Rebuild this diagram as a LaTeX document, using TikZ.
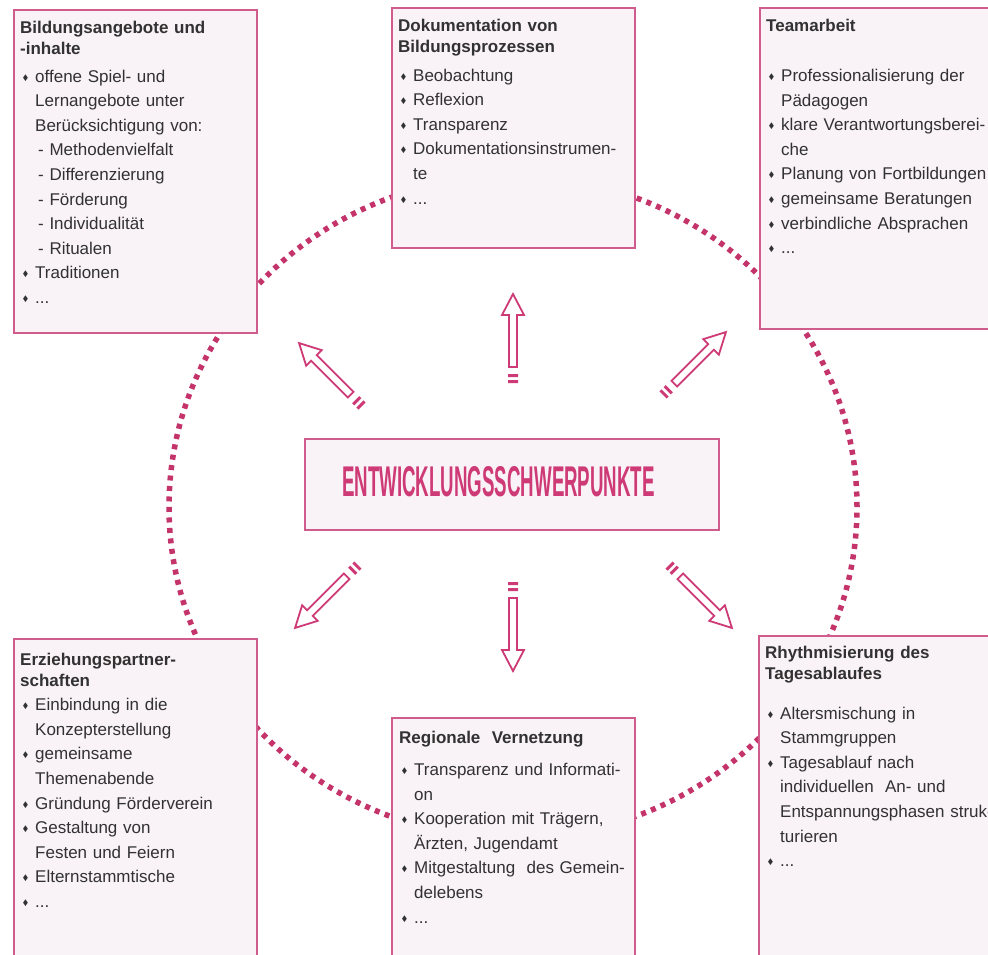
\documentclass[tikz,border=0pt]{standalone}
\usepackage{fontspec}
\usepackage{graphicx}
\usetikzlibrary{positioning}
\setmainfont{Liberation Sans}
\newfontfamily\dejavu{DejaVu Sans}
\definecolor{boxline}{RGB}{208,92,142}
\definecolor{boxfill}{RGB}{249,242,246}
\definecolor{dotcol}{RGB}{196,52,106}
\definecolor{headcol}{RGB}{206,58,118}
\definecolor{textgray}{RGB}{50,50,50}
\newcommand{\bul}{\hspace*{3pt}\makebox[12pt][l]{\raisebox{2pt}{\dejavu\fontsize{9}{9}\selectfont\scalebox{0.7}[1]{◆}}}}
\newcommand{\cont}{\hspace*{15pt}}
\newcommand{\subit}{\hspace*{18pt}}
\newcommand{\boxhead}[2]{{\fontsize{17}{20.5}\selectfont\bfseries #1\par}\vspace{#2pt}}
\tikzset{
  infobox/.style={draw=boxline,fill=boxfill,line width=1.6pt,anchor=north west,minimum width=243,inner sep=0pt},
  boxtext/.style={text=textgray,text width=232pt,align=left,inner sep=0pt,font=\fontsize{17}{24.6}\selectfont},
  mainbox/.style={draw=boxline,fill=boxfill,line width=1.5pt,minimum width=414,minimum height=91,text=headcol,text height=24.8pt,text depth=0pt},
  dotring/.style={draw=dotcol,line width=5.5pt,dash pattern=on 5pt off 5.5pt},
  arrowline/.style={draw=headcol,line width=1.8pt,fill=white,line join=miter},
  hollowarrow/.pic={
    \fill[headcol] (0,-5) rectangle (3,5) (6,-5) rectangle (9,5);
    \draw[arrowline] (16,-4) -- (68,-4) -- (68,-11) -- (89,0) -- (68,11) -- (68,4) -- (16,4) -- cycle;
  }
}
\begin{document}
\begin{tikzpicture}[x=1pt,y=-1pt]
\clip (0,0) rectangle (988,955);
\fill[white] (0,0) rectangle (988,955);
\draw[dotring] (513,507) ellipse [x radius=344pt, y radius=331pt];
\node (bildung) at (13,9) [infobox][minimum height=323]{};
\node (doku) at (391,7) [infobox][minimum height=240]{};
\node (team) at (759,7) [infobox][minimum height=321]{};
\node (eltern) at (13,638) [infobox][minimum height=340]{};
\node (region) at (391,717) [infobox][minimum height=260]{};
\node (rhythmus) at (758,635) [infobox][minimum height=340]{};
\node (bildungtext) [boxtext, below right=12pt and 7pt of bildung.north west]{\boxhead{Bildungsangebote und\\-inhalte}{3.4}
\bul offene Spiel- und\\
\cont Lernangebote unter\\
\cont Berücksichtigung von:\\
\subit - Methodenvielfalt\\
\subit - Differenzierung\\
\subit - Förderung\\
\subit - Individualität\\
\subit - Ritualen\\
\bul Traditionen\\
\bul ...};
\node (dokutext) [boxtext, below right=12pt and 7pt of doku.north west]{\boxhead{Dokumentation von\\Bildungsprozessen}{4.4}
\bul Beobachtung\\
\bul Reflexion\\
\bul Transparenz\\
\bul Dokumentationsinstrumen-\\
\cont te\\
\bul ...};
\node (teamtext) [boxtext, below right=12pt and 7pt of team.north west]{\boxhead{Teamarbeit}{25.4}
\bul Professionalisierung der\\
\cont Pädagogen\\
\bul klare Verantwortungsberei-\\
\cont che\\
\bul Planung von Fortbildungen\\
\bul gemeinsame Beratungen\\
\bul verbindliche Absprachen\\
\bul ...};
\node (elterntext) [boxtext, below right=15pt and 7pt of eltern.north west]{\boxhead{Erziehungspartner-\\schaften}{0}
\bul Einbindung in die\\
\cont Konzepterstellung\\
\bul gemeinsame\\
\cont Themenabende\\
\bul Gründung Förderverein\\
\bul Gestaltung von\\
\cont Festen und Feiern\\
\bul Elternstammtische\\
\bul ...};
\node (regiontext) [boxtext, below right=14pt and 8pt of region.north west]{\boxhead{Regionale\ \ Vernetzung}{7.4}
\bul Transparenz und Informati-\\
\cont on\\
\bul Kooperation mit Trägern,\\
\cont Ärzten, Jugendamt\\
\bul Mitgestaltung\ \ des Gemein-\\
\cont delebens\\
\bul ...};
\node (rhythmustext) [boxtext, below right=11pt and 7pt of rhythmus.north west]{\boxhead{Rhythmisierung des\\Tagesablaufes}{15.4}
\bul Altersmischung in\\
\cont Stammgruppen\\
\bul Tagesablauf nach\\
\cont individuellen\ \ An- und\\
\cont Entspannungsphasen struk-\\
\cont turieren\\
\bul ...};
\node (center) at (512,484.5) [mainbox]{\scalebox{0.435}[1]{\fontsize{43}{43}\selectfont\bfseries ENTWICKLUNGSSCHWERPUNKTE}\kern27pt};
\pic[rotate=90] at (513,383) {hollowarrow};
\pic[rotate=-90] at (513,582) {hollowarrow};
\pic[rotate=135] at (362,406) {hollowarrow};
\pic[rotate=45] at (663,395) {hollowarrow};
\pic[rotate=-135] at (358,565) {hollowarrow};
\pic[rotate=-45] at (669,565) {hollowarrow};
\end{tikzpicture}
\end{document}
